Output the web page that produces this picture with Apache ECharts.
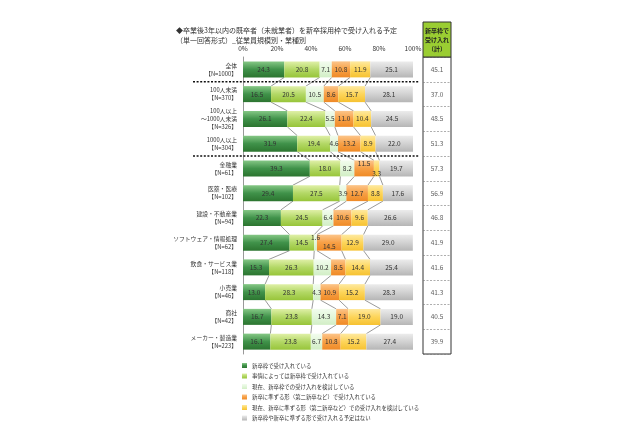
<!DOCTYPE html>
<html><head><meta charset="utf-8">
<script src="https://cdn.jsdelivr.net/npm/echarts@6/dist/echarts.min.js"></script>
<style>html,body{margin:0;padding:0;background:#fff}#c{width:640px;height:426px}</style>
</head><body><div id="c"></div>
<script>
const categories = ['全体\n【N=1000】','100人未満\n【N=370】','100人以上\n～1000人未満\n【N=326】','1000人以上\n【N=304】','金融業\n【N=61】','医薬・医療\n【N=102】','建設・不動産業\n【N=94】','ソフトウェア・情報処理\n【N=62】','飲食・サービス業\n【N=118】','小売業\n【N=46】','商社\n【N=42】','メーカー・製造業\n【N=223】'];
const seriesNames = ['新卒枠で受け入れている','事情によっては新卒枠で受け入れている','現在、新卒枠での受け入れを検討している','新卒に準ずる形（第二新卒など）で受け入れている','現在、新卒に準ずる形（第二新卒など）での受け入れを検討している','新卒枠や新卒に準ずる形で受け入れる予定はない'];
const s1 = [24.3,16.5,26.1,31.9,39.3,29.4,22.3,27.4,15.3,13.0,16.7,16.1];
const s2 = [20.8,20.5,22.4,19.4,18.0,27.5,24.5,14.5,26.3,28.3,23.8,23.8];
const s3 = [7.1,10.5,5.5,4.6,8.2,3.9,6.4,1.6,10.2,4.3,14.3,6.7];
const s4 = [10.8,8.6,11.0,13.2,11.5,12.7,10.6,14.5,8.5,10.9,7.1,10.8];
const s5 = [11.9,15.7,10.4,8.9,3.3,8.8,9.6,12.9,14.4,15.2,19.0,15.2];
const s6 = [25.1,28.1,24.5,22.0,19.7,17.6,26.6,29.0,25.4,28.3,19.0,27.4];
const totals = [45.1,37.0,48.5,51.3,57.3,56.9,46.8,41.9,41.6,41.3,40.5,39.9];
const xTicks = [0,20,40,60,80,100];
const separatorsAfter = [0,3];
const tableHeader = '新卒枠で\n受け入れ\n（計）';

const allSeries = [s1,s2,s3,s4,s5,s6];
const colorStops = [
  ['#86c886','#40924a','#2c7530'],
  ['#e0f0a8','#b3d866','#98c53a'],
  ['#f2fcee','#e2f6da','#d2eec6'],
  ['#fcc58a','#f7a046','#ef8a26'],
  ['#fee9a0','#fdd55a','#f6c232'],
  ['#ececec','#d2d2d2','#b6b6b6']
];
function grad(c){return {type:'linear',x:0,y:0,x2:0,y2:1,colorStops:[{offset:0,color:c[0]},{offset:0.5,color:c[1]},{offset:1,color:c[2]}]};}
const FONT = '"Noto Sans CJK JP","Noto Sans",sans-serif';
const BARW = 16;

function labelOffset(col,row){
  if (s3[row] < 3.5) { if (col===2) return [0,-5]; if (col===3) return [0,4]; }
  if (s5[row] < 3.5) { if (col===4) return [0,5]; if (col===3) return [0,-5]; }
  return [0,0];
}

const cums = categories.map((_,r)=>{let c=0;return allSeries.map(s=>{c+=s[r];return c;});});

const barSeries = allSeries.map((arr,j)=>({
  name: seriesNames[j], type:'bar', stack:'a', barWidth:BARW, xAxisIndex:0, yAxisIndex:0,
  itemStyle:{color:grad(colorStops[j])},
  data: arr.map((v,r)=>({value:v,label:{offset:labelOffset(j,r)}})),
  label:{show:true,position:'inside',fontSize:6.5,color:'#333',fontFamily:FONT,formatter:p=>p.value.toFixed(1)},
  emphasis:{disabled:true}, z:3
}));

const connectorSeries = {
  type:'custom', xAxisIndex:0, yAxisIndex:0, silent:true, clip:false, z:2,
  data: categories.slice(0,-1).map((_,i)=>[0,i]),
  encode:{x:0,y:1},
  renderItem:(params,api)=>{
    const i = api.value(1);
    const children = [];
    for (let k=0;k<5;k++){
      const a = api.coord([cums[i][k], i]);
      const b = api.coord([cums[i+1][k], i+1]);
      children.push({type:'line',shape:{x1:a[0],y1:a[1]+BARW/2,x2:b[0],y2:b[1]-BARW/2},style:{stroke:'#555',lineWidth:0.6}});
    }
    return {type:'group',children};
  }
};

const separatorSeries = {
  type:'custom', xAxisIndex:0, yAxisIndex:0, silent:true, clip:false, z:4,
  data: separatorsAfter.map(i=>[0,i]),
  encode:{x:0,y:1},
  renderItem:(params,api)=>{
    const i = api.value(1);
    const a = api.coord([0,i]), b = api.coord([0,i+1]), e = api.coord([100,i]);
    const y = (a[1]+b[1])/2;
    return {type:'line',shape:{x1:a[0]-50,y1:y,x2:e[0]+6,y2:y},style:{stroke:'#111',lineWidth:1.3,lineDash:[2,1.6]}};
  }
};

const tableSeries = {
  type:'scatter', xAxisIndex:1, yAxisIndex:1, symbolSize:1, silent:true,
  itemStyle:{color:'rgba(0,0,0,0)'},
  data: totals.map((v,i)=>[0.5,i,v]),
  label:{show:true,position:'inside',fontSize:6.5,color:'#333',fontFamily:FONT,formatter:p=>p.value[2].toFixed(1)}
};

const chart = echarts.init(document.getElementById('c'),null,{renderer:'canvas'});
chart.setOption({
  animation:false,
  backgroundColor:'#fff',
  textStyle:{fontFamily:FONT},
  title:{text:'◆卒業後3年以内の既卒者（未就業者）を新卒採用枠で受け入れる予定\n（単一回答形式）_従業員規模別・業種別',left:171,top:20,
    textStyle:{fontSize:7,lineHeight:10,color:'#333',fontWeight:'normal',fontFamily:FONT}},
  legend:{orient:'vertical',left:242,top:362,itemWidth:5,itemHeight:5,itemGap:3.5,padding:0,icon:'rect',
    data:seriesNames,textStyle:{fontSize:5.4,lineHeight:7,color:'#333',fontFamily:FONT},selectedMode:false},
  grid:[
    {left:243,right:227,top:57,bottom:72,containLabel:false},
    {left:423,right:189,top:57,bottom:72,show:true,borderColor:'#333',borderWidth:1,backgroundColor:'#fff'}
  ],
  xAxis:[
    {type:'value',gridIndex:0,position:'top',min:xTicks[0],max:xTicks[xTicks.length-1],interval:xTicks[1]-xTicks[0],
      axisLine:{show:false},axisTick:{show:false},splitLine:{show:false},
      axisLabel:{fontSize:6.5,color:'#333',margin:5,formatter:'{value}%',fontFamily:FONT}},
    {type:'value',gridIndex:1,min:0,max:1,show:false}
  ],
  yAxis:[
    {type:'category',gridIndex:0,inverse:true,data:categories,
      axisLine:{show:true,lineStyle:{color:'#999',width:1}},axisTick:{show:false},
      axisLabel:{fontSize:5.8,lineHeight:8,color:'#333',margin:6,align:'right',fontFamily:FONT}},
    {type:'category',gridIndex:1,inverse:true,data:categories,
      axisLine:{show:false},axisTick:{show:false},axisLabel:{show:false},
      splitLine:{show:true,lineStyle:{color:'#777',width:0.6,type:[2,1.5]}}}
  ],
  graphic:[
    {type:'rect',shape:{x:423,y:22,width:28,height:35},style:{fill:'#9acd32',stroke:'#333',lineWidth:1},z:10},
    {type:'text',x:437,y:39.5,style:{text:tableHeader,fontSize:6,lineHeight:9,fontWeight:'bold',fill:'#222',align:'center',verticalAlign:'middle',fontFamily:FONT},z:11}
  ],
  series:[...barSeries, connectorSeries, separatorSeries, tableSeries]
});
</script></body></html>
